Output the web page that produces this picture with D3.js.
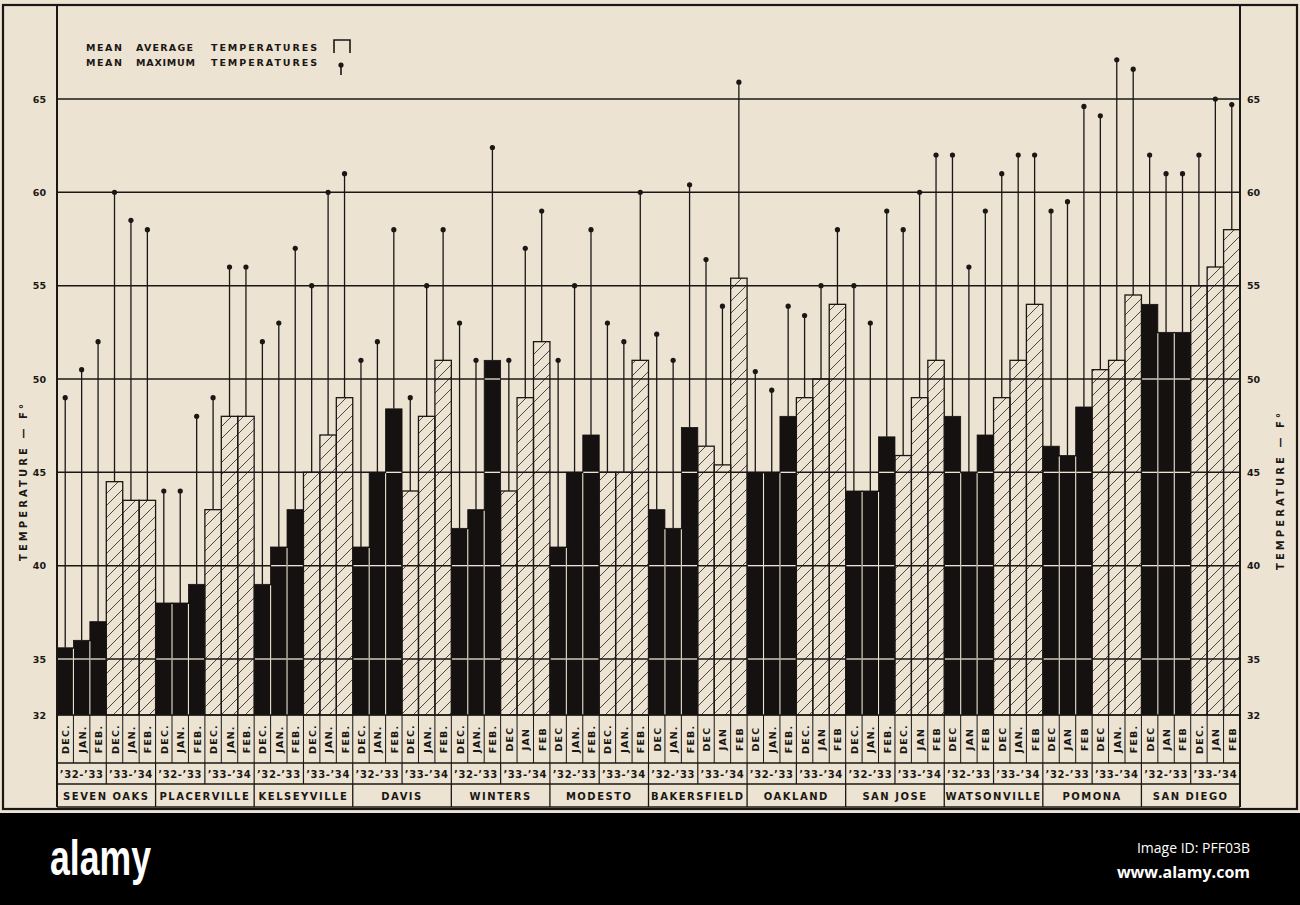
<!DOCTYPE html>
<html><head><meta charset="utf-8">
<script src="https://cdn.jsdelivr.net/npm/d3@7/dist/d3.min.js"></script>
<style>html,body{margin:0;padding:0;background:#000;} svg{display:block}</style>
</head><body><svg id="c" width="1300" height="905"></svg>
<script>
// ---------- DATA ----------
const locations = ["SEVEN OAKS","PLACERVILLE","KELSEYVILLE","DAVIS","WINTERS","MODESTO",
  "BAKERSFIELD","OAKLAND","SAN JOSE","WATSONVILLE","POMONA","SAN DIEGO"];
const seasons = ["\u201932-\u201933","\u201933-\u201934"];
const monthLabels = [
  "DEC.","JAN.","FEB.","DEC.","JAN.","FEB.",
  "DEC.","JAN.","FEB.","DEC.","JAN.","FEB.",
  "DEC.","JAN.","FEB.","DEC.","JAN.","FEB.",
  "DEC.","JAN.","FEB.","DEC.","JAN.","FEB.",
  "DEC.","JAN.","FEB.","DEC","JAN","FEB",
  "DEC","JAN.","FEB.","DEC.","JAN.","FEB.",
  "DEC","JAN.","FEB.","DEC","JAN","FEB",
  "DEC","JAN.","FEB.","DEC.","JAN","FEB",
  "DEC.","JAN.","FEB.","DEC.","JAN","FEB",
  "DEC","JAN","FEB","DEC","JAN.","FEB",
  "DEC","JAN","FEB","DEC","JAN.","FEB.",
  "DEC","JAN","FEB","DEC.","JAN","FEB"];
// mean average temperatures [Dec, Jan, Feb] per location
const avg3233 = [[35.6,36.0,37.0],[38.0,38.0,39.0],[39.0,41.0,43.0],[41.0,45.0,48.4],
  [42.0,43.0,51.0],[41.0,45.0,47.0],[43.0,42.0,47.4],[45.0,45.0,48.0],
  [44.0,44.0,46.9],[48.0,45.0,47.0],[46.4,45.9,48.5],[54.0,52.5,52.5]];
const avg3334 = [[44.5,43.5,43.5],[43.0,48.0,48.0],[45.0,47.0,49.0],[44.0,48.0,51.0],
  [44.0,49.0,52.0],[45.0,45.0,51.0],[46.4,45.4,55.4],[49.0,50.0,54.0],
  [45.9,49.0,51.0],[49.0,51.0,54.0],[50.5,51.0,54.5],[55.0,56.0,58.0]];
// mean maximum temperatures
const max3233 = [[49.0,50.5,52.0],[44.0,44.0,48.0],[52.0,53.0,57.0],[51.0,52.0,58.0],
  [53.0,51.0,62.4],[51.0,55.0,58.0],[52.4,51.0,60.4],[50.4,49.4,53.9],
  [55.0,53.0,59.0],[62.0,56.0,59.0],[59.0,59.5,64.6],[62.0,61.0,61.0]];
const max3334 = [[60.0,58.5,58.0],[49.0,56.0,56.0],[55.0,60.0,61.0],[49.0,55.0,58.0],
  [51.0,57.0,59.0],[53.0,52.0,60.0],[56.4,53.9,65.9],[53.4,55.0,58.0],
  [58.0,60.0,62.0],[61.0,62.0,62.0],[64.1,67.1,66.6],[62.0,65.0,64.7]];
const yTicks = [65,60,55,50,45,40,35,32];
const gridValues = [65,60,55,50,45,40,35];
const legendLines = [["MEAN","AVERAGE","TEMPERATURES"],["MEAN","MAXIMUM","TEMPERATURES"]];
const axisTitle = "TEMPERATURE \u2014 F\u00b0";

// ---------- SETUP ----------
const paper = "#ece3d2", ink = "#1a1715";
const svg = d3.select("#c");
const FONT = "'DejaVu Sans', sans-serif";

const bars = [];
locations.forEach((loc, li) => {
  [avg3233, avg3334].forEach((arr, si) => {
    const mx = si === 0 ? max3233 : max3334;
    for (let m = 0; m < 3; m++) bars.push({loc, li, si, m, idx: li*6+si*3+m, avg: arr[li][m], max: mx[li][m]});
  });
});

const X0 = 57, X1 = 1240, TOP = 5, BASE = 715, R1 = 763, R2 = 784, R3 = 807;
const x = d3.scaleBand().domain(d3.range(bars.length)).range([X0, X1]).padding(0);
const y = d3.scaleLinear().domain([32, 65]).range([BASE, 99]);
const bw = x.bandwidth();

// backgrounds
svg.append("rect").attr("x",0).attr("y",0).attr("width",1300).attr("height",905).attr("fill","#000");
svg.append("rect").attr("x",0).attr("y",0).attr("width",1300).attr("height",813).attr("fill",paper);

// hatch pattern
const defs = svg.append("defs");
const pat = defs.append("pattern").attr("id","hatch").attr("patternUnits","userSpaceOnUse")
  .attr("width",12).attr("height",12);
pat.append("rect").attr("width",12).attr("height",12).attr("fill",paper);
pat.append("path").attr("d","M-3,3 L3,-3 M0,12 L12,0 M9,15 L15,9")
  .attr("stroke","#3b3632").attr("stroke-width",0.9).attr("fill","none");

const hatched = bars.filter(d => d.si === 1);
const solid = bars.filter(d => d.si === 0);

// hatched fills
svg.append("g").selectAll("rect").data(hatched).join("rect")
  .attr("x", d => x(d.idx)).attr("width", bw)
  .attr("y", d => y(d.avg)).attr("height", d => BASE - y(d.avg))
  .attr("fill","url(#hatch)");

// gridlines
svg.append("g").selectAll("line").data(gridValues).join("line")
  .attr("x1", X0).attr("x2", X1).attr("y1", d => y(d)).attr("y2", d => y(d))
  .attr("stroke", ink).attr("stroke-width", 1.5);

// solid bars
svg.append("g").selectAll("rect").data(solid).join("rect")
  .attr("x", d => x(d.idx)).attr("width", bw)
  .attr("y", d => y(d.avg)).attr("height", d => BASE - y(d.avg))
  .attr("fill", "#141110").attr("stroke","#141110").attr("stroke-width",0.8);

// white grid segments over solid bars
const wseg = [];
solid.forEach(d => gridValues.forEach(v => { if (v < d.avg - 0.05) wseg.push({d, v}); }));
svg.append("g").selectAll("line").data(wseg).join("line")
  .attr("x1", s => x(s.d.idx) + 0.5).attr("x2", s => x(s.d.idx) + bw - 0.5)
  .attr("y1", s => y(s.v)).attr("y2", s => y(s.v))
  .attr("stroke", paper).attr("stroke-width", 1.3);
// white separators between adjacent solid bars
const seps = solid.filter(d => d.m < 2).map(d => {
  const nxt = bars[d.idx + 1];
  return {xx: x(d.idx) + bw, top: Math.min(d.avg, nxt.avg)};
});
svg.append("g").selectAll("line").data(seps).join("line")
  .attr("x1", s => s.xx).attr("x2", s => s.xx).attr("y1", BASE).attr("y2", s => y(s.top) + 1)
  .attr("stroke", paper).attr("stroke-width", 1.1);

// hatched outlines
svg.append("g").selectAll("rect").data(hatched).join("rect")
  .attr("x", d => x(d.idx)).attr("width", bw)
  .attr("y", d => y(d.avg)).attr("height", d => BASE - y(d.avg))
  .attr("fill","none").attr("stroke", ink).attr("stroke-width", 1.3);

// max lines + dots
const mg = svg.append("g");
mg.selectAll("line").data(bars).join("line")
  .attr("x1", d => x(d.idx) + bw/2).attr("x2", d => x(d.idx) + bw/2)
  .attr("y1", d => y(d.max)).attr("y2", d => y(d.avg))
  .attr("stroke", ink).attr("stroke-width", 1.3);
mg.selectAll("circle").data(bars).join("circle")
  .attr("cx", d => x(d.idx) + bw/2).attr("cy", d => y(d.max)).attr("r", 2.6).attr("fill", ink);

// frame and table lines
const fr = svg.append("g").attr("stroke", ink).attr("fill","none");
fr.append("rect").attr("x",3).attr("y",TOP).attr("width",1294).attr("height",R3+2-TOP).attr("stroke-width",2.2);
fr.append("line").attr("x1",X0).attr("x2",X0).attr("y1",TOP).attr("y2",R3).attr("stroke-width",2);
fr.append("line").attr("x1",X1).attr("x2",X1).attr("y1",TOP).attr("y2",R3).attr("stroke-width",2);
[BASE, R1, R2, R3].forEach(yy => fr.append("line").attr("x1",X0).attr("x2",X1).attr("y1",yy).attr("y2",yy).attr("stroke-width",1.6));
d3.range(1, bars.length).forEach(i => {
  fr.append("line").attr("x1",x(i)).attr("x2",x(i)).attr("y1",BASE).attr("y2",R1).attr("stroke-width",1);
  if (i % 3 === 0) fr.append("line").attr("x1",x(i)).attr("x2",x(i)).attr("y1",R1).attr("y2",R2).attr("stroke-width",1.2);
  if (i % 6 === 0) fr.append("line").attr("x1",x(i)).attr("x2",x(i)).attr("y1",R2).attr("y2",R3).attr("stroke-width",1.3);
});

// month labels
const tg = svg.append("g").attr("font-family", FONT).attr("font-weight","bold").attr("fill", ink);
tg.selectAll("text.m").data(bars).join("text").attr("class","m")
  .attr("transform", d => `translate(${x(d.idx) + bw/2 + 0.5},${(BASE + R1)/2}) rotate(-90)`)
  .attr("text-anchor","middle").attr("dominant-baseline","central")
  .attr("font-size", 9.5).attr("letter-spacing", 1.2)
  .text(d => monthLabels[d.idx]);

// season labels
const seasonCells = d3.range(locations.length * 2).map(k => ({k, label: seasons[k % 2]}));
tg.selectAll("text.s").data(seasonCells).join("text").attr("class","s")
  .attr("x", d => x(d.k*3) + bw*1.5).attr("y", (R1 + R2)/2 + 0.5)
  .attr("text-anchor","middle").attr("dominant-baseline","central")
  .attr("font-size", 10).attr("letter-spacing", 0.6)
  .text(d => d.label);

// location labels
tg.selectAll("text.l").data(locations).join("text").attr("class","l")
  .attr("x", (d,i) => x(i*6) + bw*3).attr("y", (R2 + R3)/2 + 0.5)
  .attr("text-anchor","middle").attr("dominant-baseline","central")
  .attr("font-size", 10).attr("letter-spacing", 1.5)
  .text(d => d);

// y tick labels, both sides
tg.selectAll("text.yl").data(yTicks).join("text").attr("class","yl")
  .attr("x", 46).attr("y", d => y(d)).attr("text-anchor","end").attr("dominant-baseline","central")
  .attr("font-size", 9.5).text(d => d);
tg.selectAll("text.yr").data(yTicks).join("text").attr("class","yr")
  .attr("x", 1247).attr("y", d => y(d)).attr("text-anchor","start").attr("dominant-baseline","central")
  .attr("font-size", 9.5).text(d => d);

// axis titles
[[23, 482],[1280, 491]].forEach(([ax, ay]) => {
  tg.append("text").attr("transform", `translate(${ax},${ay}) rotate(-90)`)
    .attr("text-anchor","middle").attr("dominant-baseline","central")
    .attr("font-size", 10).attr("letter-spacing", 1)
    .attr("textLength", 158).attr("lengthAdjust","spacing")
    .text(axisTitle);
});

// legend
const wordX = [86, 136, 211], wordL = [[36, 57, 106],[36, 59, 106]];
legendLines.forEach((words, r) => {
  words.forEach((w, k) => {
    tg.append("text").attr("x", wordX[k]).attr("y", 50.5 + r*15)
      .attr("font-size", 9.5).attr("textLength", wordL[r][k]).attr("lengthAdjust","spacing")
      .text(w);
  });
});
const lg = svg.append("g").attr("stroke", ink).attr("fill","none").attr("stroke-width",1.6);
lg.append("path").attr("d","M334,53 V40 H350 V53");
lg.append("line").attr("x1",341).attr("x2",341).attr("y1",65).attr("y2",75);
svg.append("circle").attr("cx",341).attr("cy",65).attr("r",2.6).attr("fill",ink);

// bottom banner
svg.append("text").attr("x",50).attr("y",875).attr("fill","#fff")
  .attr("font-family","'Liberation Sans Narrow','Liberation Sans',sans-serif").attr("font-weight","bold")
  .attr("font-size",50).attr("textLength",101).attr("lengthAdjust","spacingAndGlyphs").text("alamy");
svg.append("text").attr("x",1250).attr("y",853).attr("fill","#fff").attr("text-anchor","end")
  .attr("font-family","'Open Sans',sans-serif").attr("font-size",14).text("Image ID: PFF03B");
svg.append("text").attr("x",1250).attr("y",878).attr("fill","#fff").attr("text-anchor","end")
  .attr("font-family","'Open Sans',sans-serif").attr("font-weight","bold").attr("font-size",16).text("www.alamy.com");
</script></body></html>
